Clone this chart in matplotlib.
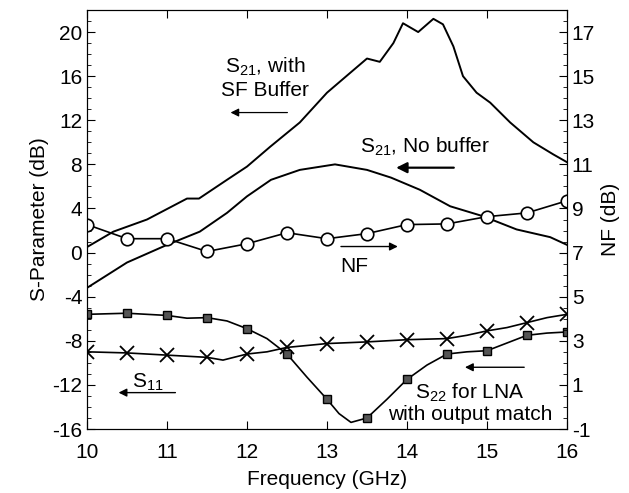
import numpy as np
import matplotlib.pyplot as plt
from matplotlib.ticker import MultipleLocator

plt.rcParams['font.family'] = ['Liberation Sans', 'DejaVu Sans']
plt.rcParams['axes.unicode_minus'] = False
plt.rcParams['mathtext.fontset'] = 'custom'
plt.rcParams['mathtext.rm'] = 'Liberation Sans'

# S21 with source-follower buffer (trace, left axis dB)
f_s21_buf = [10.0, 10.33, 10.75, 11.25, 11.4, 11.75, 12.0, 12.29, 12.66, 13.0, 13.29,
             13.5, 13.66, 13.83, 13.95, 14.14, 14.33, 14.45, 14.58, 14.7, 14.87,
             15.04, 15.29, 15.58, 15.83, 16.0]
s21_buf = [0.5, 1.9, 3.0, 4.9, 4.9, 6.6, 7.8, 9.6, 11.8, 14.5, 16.3,
           17.6, 17.3, 19.0, 20.8, 20.0, 21.2, 20.7, 18.7, 16.0, 14.5,
           13.6, 11.8, 10.0, 8.9, 8.2]

# S21 without buffer
f_s21_nob = [10.0, 10.5, 11.0, 11.41, 11.75, 12.0, 12.3, 12.66, 13.1, 13.5, 13.8,
             14.16, 14.54, 14.95, 15.37, 15.79, 16.0]
s21_nob = [-3.2, -0.9, 0.7, 1.9, 3.6, 5.1, 6.6, 7.5, 8.0, 7.5, 6.8,
           5.7, 4.2, 3.3, 2.1, 1.4, 0.7]

# measured points every 0.5 GHz
f_pts = [10.0, 10.5, 11.0, 11.5, 12.0, 12.5, 13.0, 13.5, 14.0, 14.5, 15.0, 15.5, 16.0]
nf = [8.27, 7.63, 7.63, 7.05, 7.4, 7.9, 7.63, 7.86, 8.27, 8.3, 8.63, 8.8, 9.35]
s11_pts = [-9.0, -9.1, -9.3, -9.5, -9.2, -8.6, -8.25, -8.1, -7.9, -7.8, -7.1, -6.35, -5.6]
s22_pts = [-5.6, -5.5, -5.7, -5.9, -6.9, -9.2, -13.3, -15.0, -11.5, -9.2, -8.9, -7.5, -7.2]

# traces between the markers
f_s11 = [10.0, 10.5, 10.75, 11.0, 11.25, 11.5, 11.7, 12.0, 12.25, 12.5, 13.0, 13.5,
         14.0, 14.5, 14.75, 15.0, 15.25, 15.5, 15.75, 16.0]
s11 = [-9.0, -9.1, -9.2, -9.3, -9.4, -9.5, -9.75, -9.2, -9.0, -8.6, -8.25, -8.1,
       -7.9, -7.8, -7.5, -7.1, -6.8, -6.35, -5.9, -5.6]
f_s22 = [10.0, 10.5, 11.0, 11.25, 11.5, 11.75, 12.0, 12.25, 12.5, 12.75, 13.0, 13.15,
         13.3, 13.5, 13.75, 14.0, 14.25, 14.5, 14.75, 15.0, 15.25, 15.5, 15.75, 16.0]
s22 = [-5.6, -5.5, -5.7, -5.95, -5.9, -6.2, -6.9, -7.8, -9.2, -11.3, -13.3, -14.6,
       -15.4, -15.0, -13.3, -11.5, -10.2, -9.2, -9.0, -8.9, -8.2, -7.5, -7.3, -7.2]

fig = plt.figure(figsize=(6.29, 4.93), dpi=100)
ax = fig.add_axes([0.1383, 0.1298, 0.7631, 0.8499])
ax2 = ax.twinx()

lw = 1.4
ax.plot(f_s21_buf, s21_buf, color='black', lw=lw)
ax.plot(f_s21_nob, s21_nob, color='black', lw=lw)
ax.plot(f_s11, s11, color='black', lw=1.2)
ax.plot(f_pts, s11_pts, ls='none', marker='x', ms=10, mew=1.3, color='black')
ax.plot(f_s22, s22, color='black', lw=1.2)
ax.plot(f_pts, s22_pts, ls='none', marker='s', ms=5.5, mfc='#555555', mec='black', mew=1.0)
ax2.plot(f_pts, nf, color='black', lw=1.2, marker='o', ms=9, mfc='white', mec='black', mew=1.2)

ax.set_xlim(10, 16)
ax.set_ylim(-16, 22)
ax2.set_ylim(-1, 18)
ax.xaxis.set_major_locator(MultipleLocator(1))
ax.set_yticks([-16, -12, -8, -4, 0, 4, 8, 12, 16, 20])
ax.yaxis.set_minor_locator(MultipleLocator(1))
ax2.set_yticks([-1, 1, 3, 5, 7, 9, 11, 13, 15, 17])
ax2.yaxis.set_minor_locator(MultipleLocator(0.5))

fs = 15
ax.tick_params(axis='both', which='both', direction='in', labelsize=fs, top=True)
ax.tick_params(which='major', length=6)
ax.tick_params(which='minor', length=3)
ax.tick_params(axis='x', pad=10)
ax2.tick_params(axis='y', which='both', direction='in', labelsize=fs)
ax2.tick_params(which='major', length=6)
ax2.tick_params(which='minor', length=3)

ax.set_xlabel('Frequency (GHz)', fontsize=fs, labelpad=6)
ax.set_ylabel('S-Parameter (dB)', fontsize=fs, labelpad=2)
ax2.set_ylabel('NF (dB)', fontsize=fs, labelpad=4)

ts = 15
ax.text(12.23, 15.9, 'S$_{21}$, with\nSF Buffer', ha='center', va='center', fontsize=ts, linespacing=1.2)
ax.annotate('', xy=(11.76, 12.7), xytext=(12.54, 12.7),
            arrowprops=dict(arrowstyle='-|>', color='black', lw=0.9, mutation_scale=12))
ax.text(14.22, 9.6, 'S$_{21}$, No buffer', ha='center', va='center', fontsize=ts)
ax.annotate('', xy=(13.83, 7.7), xytext=(14.62, 7.7),
            arrowprops=dict(arrowstyle='-|>', color='black', lw=1.6, mutation_scale=16))
ax.text(13.34, -1.3, 'NF', ha='center', va='center', fontsize=ts)
ax.annotate('', xy=(13.92, 0.55), xytext=(13.14, 0.55),
            arrowprops=dict(arrowstyle='-|>', color='black', lw=1.0, mutation_scale=12))
ax.text(10.76, -11.8, 'S$_{11}$', ha='center', va='center', fontsize=ts)
ax.annotate('', xy=(10.36, -12.7), xytext=(11.14, -12.7),
            arrowprops=dict(arrowstyle='-|>', color='black', lw=1.0, mutation_scale=12))
ax.text(14.79, -13.6, 'S$_{22}$ for LNA\nwith output match', ha='center', va='center',
        fontsize=ts, linespacing=1.05)
ax.annotate('', xy=(14.69, -10.4), xytext=(15.5, -10.4),
            arrowprops=dict(arrowstyle='-|>', color='black', lw=1.0, mutation_scale=12))

fig.savefig('out.png', dpi=100)
